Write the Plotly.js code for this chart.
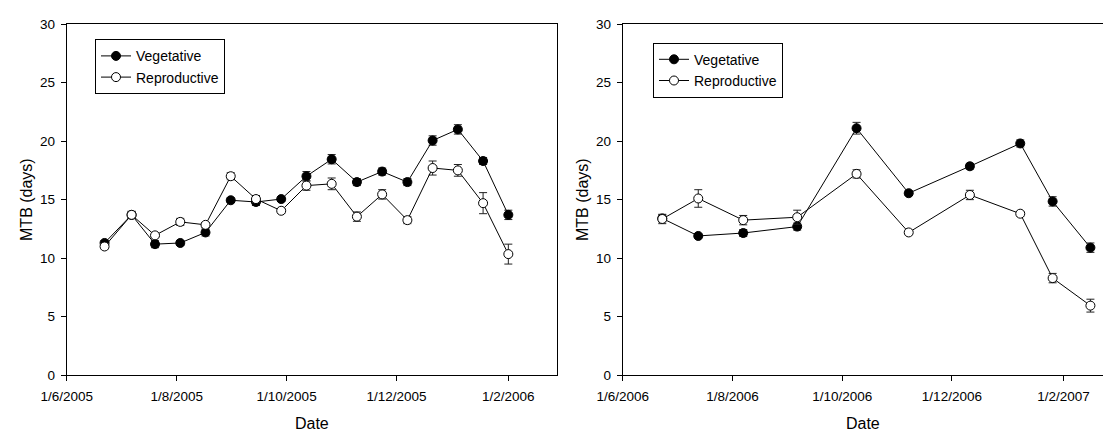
<!DOCTYPE html>
<html>
<head>
<meta charset="utf-8">
<script src="https://cdn.plot.ly/plotly-3.0.1.min.js"></script>
<style>
  html, body { margin: 0; padding: 0; background: #fff; }
  #chart { width: 1103px; height: 432px; }
</style>
</head>
<body>
<div id="chart"></div>
<script>
// Season 2005/06 sampling dates and mean time to budbreak (days) with SE
const dates2005 = ['2005-06-22', '2005-07-07', '2005-07-20', '2005-08-03', '2005-08-17',
  '2005-08-31', '2005-09-14', '2005-09-28', '2005-10-12', '2005-10-26', '2005-11-09',
  '2005-11-23', '2005-12-07', '2005-12-21', '2006-01-04', '2006-01-18', '2006-02-01'];
const veg2005 = [11.3, 13.7, 11.2, 11.3, 12.2, 14.95, 14.8, 15.05, 17.0, 18.45, 16.5,
  17.4, 16.5, 20.05, 21.0, 18.3, 13.7];
const vegErr2005 = [0.2, 0.3, 0.3, 0.2, 0.3, 0.2, 0.3, 0.2, 0.4, 0.4, 0.3,
  0.3, 0.3, 0.4, 0.4, 0.3, 0.4];
const rep2005 = [11.0, 13.7, 11.95, 13.1, 12.85, 17.0, 15.05, 14.05, 16.2, 16.35, 13.55,
  15.45, 13.25, 17.7, 17.5, 14.7, 10.35];
const repErr2005 = [0.2, 0.3, 0.2, 0.3, 0.2, 0.3, 0.3, 0.2, 0.4, 0.5, 0.4,
  0.4, 0.3, 0.6, 0.5, 0.9, 0.85];

// Season 2006/07
const dates2006 = ['2006-06-23', '2006-07-13', '2006-08-07', '2006-09-06', '2006-10-09',
  '2006-11-07', '2006-12-11', '2007-01-08', '2007-01-26', '2007-02-16'];
const veg2006 = [13.4, 11.9, 12.15, 12.7, 21.1, 15.55, 17.85, 19.8, 14.85, 10.9];
const vegErr2006 = [0.3, 0.15, 0.3, 0.3, 0.5, 0.2, 0.25, 0.3, 0.4, 0.4];
const rep2006 = [13.35, 15.1, 13.25, 13.5, 17.2, 12.2, 15.4, 13.8, 8.3, 5.95];
const repErr2006 = [0.4, 0.75, 0.4, 0.6, 0.35, 0.2, 0.4, 0.2, 0.4, 0.55];

const seriesNames = ['Vegetative', 'Reproductive'];

const FONT = 'Liberation Sans, Arial, sans-serif';

function series(x, y, err, name, filled, xa, ya, legend) {
  return {
    type: 'scatter', mode: 'lines+markers',
    x: x, y: y, name: name, xaxis: xa, yaxis: ya, legend: legend,
    line: { color: '#000', width: 1 },
    marker: { symbol: 'circle', size: 9, color: filled ? '#000' : '#fff',
              line: { color: '#000', width: 1 } },
    error_y: { type: 'data', array: err, visible: true, color: '#222',
               thickness: 1, width: 4 },
    cliponaxis: false
  };
}

const traces = [
  series(dates2005, veg2005, vegErr2005, seriesNames[0], true, 'x', 'y', 'legend'),
  series(dates2005, rep2005, repErr2005, seriesNames[1], false, 'x', 'y', 'legend'),
  series(dates2006, veg2006, vegErr2006, seriesNames[0], true, 'x2', 'y2', 'legend2'),
  series(dates2006, rep2006, repErr2006, seriesNames[1], false, 'x2', 'y2', 'legend2')
];

const W = 1103, H = 432;
const yDomain = [(H - 375.3) / H, (H - 24) / H];

function xAxis(domain, range, tick0, anchor) {
  return {
    type: 'date', domain: domain, range: range, anchor: anchor,
    tick0: tick0, dtick: 'M2', tickformat: '%-d/%-m/%Y',
    ticks: 'outside', ticklen: 5, tickcolor: '#000', tickwidth: 1,
    ticklabelstandoff: 3,
    showline: true, linecolor: '#000', linewidth: 1, mirror: true,
    showgrid: false, zeroline: false, automargin: false,
    tickfont: { family: FONT, size: 13.5, color: '#000' },
    title: { text: 'Date', font: { family: FONT, size: 16, color: '#000' }, standoff: 18 }
  };
}

function yAxis(anchor) {
  return {
    domain: yDomain, range: [0, 30], dtick: 5, anchor: anchor,
    ticks: 'outside', ticklen: 5, tickcolor: '#000', tickwidth: 1,
    ticklabelstandoff: 3,
    showline: true, linecolor: '#000', linewidth: 1, mirror: true,
    showgrid: false, zeroline: false, automargin: false,
    tickfont: { family: FONT, size: 13.5, color: '#000' },
    title: { text: 'MTB (days)', font: { family: FONT, size: 16, color: '#000' }, standoff: 3 }
  };
}

function legendBox(x, y) {
  return {
    x: x, y: y, xanchor: 'left', yanchor: 'top',
    bgcolor: '#fff', bordercolor: '#000', borderwidth: 1,
    font: { family: FONT, size: 14, color: '#000' },
    tracegroupgap: 0, itemwidth: 30, entrywidth: 100
  };
}

const layout = {
  width: W, height: H,
  margin: { l: 0, r: 0, t: 0, b: 0 },
  paper_bgcolor: '#fff', plot_bgcolor: '#fff',
  showlegend: true,
  xaxis: xAxis([66.7 / W, 557 / W], ['2005-06-01', '2006-02-28'], '2005-06-01', 'y'),
  yaxis: yAxis('x'),
  xaxis2: xAxis([622.7 / W, 1], ['2006-06-01', '2007-02-23'], '2006-06-01', 'y2'),
  yaxis2: yAxis('x2'),
  legend: legendBox(95 / W, (H - 39.3) / H),
  legend2: legendBox(653 / W, (H - 42.7) / H)
};

Plotly.newPlot('chart', traces, layout, { displayModeBar: false, staticPlot: true });
</script>
</body>
</html>
